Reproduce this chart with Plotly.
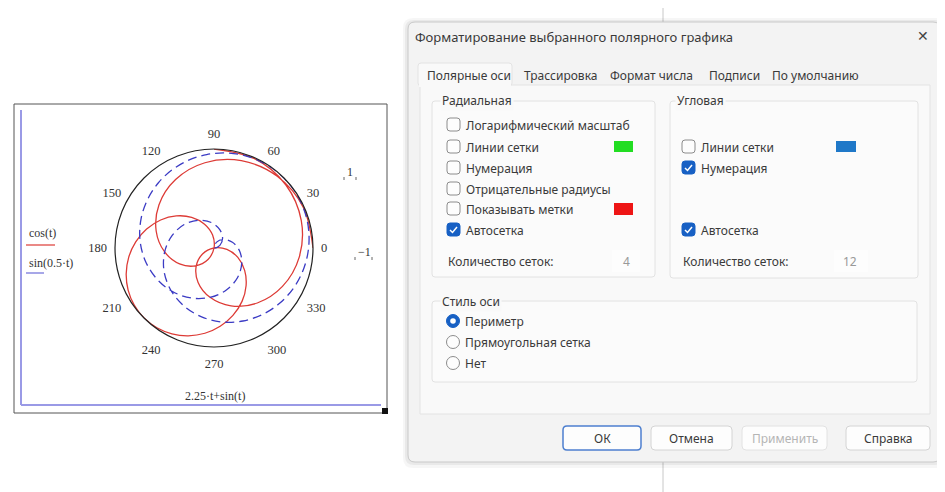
import plotly.graph_objects as go

# ---------------- data ----------------
# angle expression 2.25*t + sin(t) in degrees, sampled along t in [0, 2*pi]
THETA_DEG = [0,24.4,48.6,72.6,96.1,119.3,141.8,163.6,184.6,204.8,224.1,242.4,259.8,276.2,291.6,306.1,319.6,332.3,344.3,355.5,366.1,376.3,386.1,395.6,405,414.4,423.9,433.7,443.9,454.5,465.7,477.7,490.4,503.9,518.4,533.8,550.2,567.6,585.9,605.2,625.4,646.4,668.2,690.7,713.9,737.4,761.4,785.6,810]
R_COS = [1,0.991,0.966,0.924,0.866,0.793,0.707,0.609,0.5,0.383,0.259,0.131,0,-0.131,-0.259,-0.383,-0.5,-0.609,-0.707,-0.793,-0.866,-0.924,-0.966,-0.991,-1,-0.991,-0.966,-0.924,-0.866,-0.793,-0.707,-0.609,-0.5,-0.383,-0.259,-0.131,-0,0.131,0.259,0.383,0.5,0.609,0.707,0.793,0.866,0.924,0.966,0.991,1]
R_SIN = [0,0.065,0.131,0.195,0.259,0.321,0.383,0.442,0.5,0.556,0.609,0.659,0.707,0.752,0.793,0.831,0.866,0.897,0.924,0.947,0.966,0.981,0.991,0.998,1,0.998,0.991,0.981,0.966,0.947,0.924,0.897,0.866,0.831,0.793,0.752,0.707,0.659,0.609,0.556,0.5,0.442,0.383,0.321,0.259,0.195,0.131,0.065,0]
ANGLE_TICKS = [0, 30, 60, 90, 120, 150, 180, 210, 240, 270, 300, 330]
SERIES_NAMES = ["cos(t)", "sin(0.5·t)"]
X_EXPR = "2.25·t+sin(t)"
R_MAX_LABEL = "1"
R_MIN_LABEL = "−1"

# the page places the figure 8px in from the top-left corner of the window
OFF = 8
W, H = 945 - OFF, 492 - OFF
RED = "#dd3b36"
BLUE = "#3b3bc4"
SERIF = "Liberation Serif"
UI = "Noto Sans"
TXT = "#3a3a3a"


def X(x):
    return (x - OFF) / W


def Y(y):
    return 1 - (y - OFF) / H


def reflect(r_list, th_list):
    # negative radii are drawn on the opposite side of the pole
    rr, tt = [], []
    for r, th in zip(r_list, th_list):
        if r < 0:
            rr.append(-r)
            tt.append(th + 180)
        else:
            rr.append(r)
            tt.append(th)
    return rr, tt


fig = go.Figure()
r1, t1 = reflect(R_COS, THETA_DEG)
r2, t2 = reflect(R_SIN, THETA_DEG)
fig.add_trace(go.Scatterpolar(r=r1, theta=t1, mode="lines", name=SERIES_NAMES[0],
                              line=dict(color=RED, width=1.3, shape="spline")))
fig.add_trace(go.Scatterpolar(r=r2, theta=t2, mode="lines", name=SERIES_NAMES[1],
                              line=dict(color=BLUE, width=1.3, dash="9px,5px", shape="spline")))

cx, cy, R = 214, 248, 99
fig.update_layout(
    width=W, height=H, margin=dict(l=0, r=0, t=0, b=0),
    paper_bgcolor="white", showlegend=False,
    polar=dict(
        domain=dict(x=[X(cx - R), X(cx + R)], y=[Y(cy + R), Y(cy - R)]),
        bgcolor="white",
        radialaxis=dict(range=[0, 1], visible=False),
        angularaxis=dict(rotation=0, direction="counterclockwise", tickmode="array",
                         tickvals=ANGLE_TICKS, ticktext=[str(v) for v in ANGLE_TICKS],
                         showgrid=False, showline=True, linecolor="#222", linewidth=1.2,
                         ticks="outside", ticklen=5, tickcolor="rgba(0,0,0,0)",
                         tickfont=dict(family=SERIF, size=12.5, color="#333")),
    ),
)

shapes = []
ann = []


def rect(x0, y0, x1, y1, fill=None, line=None, lw=1, layer="above"):
    shapes.append(dict(type="rect", xref="paper", yref="paper", x0=X(x0), x1=X(x1), y0=Y(y1), y1=Y(y0),
                       fillcolor=fill or "rgba(0,0,0,0)", line=dict(color=line or "rgba(0,0,0,0)", width=lw if line else 0),
                       layer=layer))


def rrect(x0, y0, x1, y1, r, fill=None, line=None, lw=1):
    p = (f"M {X(x0 + r)},{Y(y0)} L {X(x1 - r)},{Y(y0)} Q {X(x1)},{Y(y0)} {X(x1)},{Y(y0 + r)} "
         f"L {X(x1)},{Y(y1 - r)} Q {X(x1)},{Y(y1)} {X(x1 - r)},{Y(y1)} L {X(x0 + r)},{Y(y1)} "
         f"Q {X(x0)},{Y(y1)} {X(x0)},{Y(y1 - r)} L {X(x0)},{Y(y0 + r)} Q {X(x0)},{Y(y0)} {X(x0 + r)},{Y(y0)} Z")
    shapes.append(dict(type="path", xref="paper", yref="paper", path=p,
                       fillcolor=fill or "rgba(0,0,0,0)", line=dict(color=line or "rgba(0,0,0,0)", width=lw if line else 0)))


def seg(x0, y0, x1, y1, color, lw=1):
    shapes.append(dict(type="line", xref="paper", yref="paper", x0=X(x0), y0=Y(y0), x1=X(x1), y1=Y(y1),
                       line=dict(color=color, width=lw)))


def circ(x, y, r, fill=None, line=None, lw=1):
    shapes.append(dict(type="circle", xref="paper", yref="paper", x0=X(x - r), x1=X(x + r), y0=Y(y + r), y1=Y(y - r),
                       fillcolor=fill or "rgba(0,0,0,0)", line=dict(color=line or "rgba(0,0,0,0)", width=lw if line else 0)))


def txt(x, y, s, size=12, color=TXT, anchor="left", family=UI, bg=None):
    d = dict(x=X(x), y=Y(y), xref="paper", yref="paper", text=s, showarrow=False,
             xanchor=anchor, yanchor="middle", font=dict(family=family, size=size, color=color))
    if bg:
        d["bgcolor"] = bg
    ann.append(d)


# ---------------- Mathcad region ----------------
rect(14, 104, 387, 413, line="#555", lw=1)
seg(21, 110, 21, 405, "#9a9ae6", 2)
seg(21, 405, 381, 405, "#9a9ae6", 2)
rect(382, 408, 388, 414, fill="#111")
txt(27, 233, SERIES_NAMES[0], 12, "#333", family=SERIF)
seg(26, 245, 55, 245, RED, 1.2)
txt(27, 263, SERIES_NAMES[1], 12, "#333", family=SERIF)
seg(26, 273, 44, 273, "#8a8ae0", 1.5)
txt(215, 396, X_EXPR, 12, "#333", anchor="center", family=SERIF)
# radial limits with Mathcad placeholder marks
txt(350, 172, R_MAX_LABEL, 12, "#333", anchor="center", family=SERIF)
seg(344, 177, 344, 180, "#666", 1); seg(356, 177, 356, 180, "#666", 1)
txt(364, 252, R_MIN_LABEL, 12, "#333", anchor="center", family=SERIF)
seg(355, 257, 355, 260, "#666", 1); seg(372, 257, 372, 260, "#666", 1)

# ---------------- background behind dialog ----------------
seg(663, 8, 663, 492, "#c8c8c8", 1)

# ---------------- dialog ----------------
rrect(403, 18, 946, 468, 10, fill="rgba(0,0,0,0.035)")
rrect(405, 20, 944, 465, 9, fill="rgba(0,0,0,0.05)")
rrect(408, 22, 940, 462, 7, fill="#f3f3f3", line="#c9c9c9", lw=1)
# tab page
rect(420, 85, 930, 414, fill="#f9f9f9", line="#e3e3e3")
rrect(418, 63, 512, 86, 3, fill="#f9f9f9", line="#e3e3e3")
rect(419, 84, 511, 87, fill="#f9f9f9")
txt(413, 37, "Форматирование выбранного полярного графика", 13)
txt(923, 36, "✕", 14, "#444", anchor="center", family="DejaVu Sans")
tabs = [("Полярные оси", 425), ("Трассировка", 522), ("Формат числа", 608), ("Подписи", 707), ("По умолчанию", 770)]
for name, x in tabs:
    txt(x, 75, name, 12)

# group boxes
rrect(432, 101, 655, 277, 3, fill="#fbfbfb", line="#e2e2e2")
rrect(670, 101, 918, 278, 3, fill="#fbfbfb", line="#e2e2e2")
rrect(432, 301, 917, 382, 3, fill="#fbfbfb", line="#e2e2e2")
txt(440, 101, "Радиальная", 12, bg="#f9f9f9")
txt(675, 101, "Угловая", 12, bg="#f9f9f9")
txt(440, 301, "Стиль оси", 12, bg="#f9f9f9")

CHECK_BLUE = "#1760c4"


def checkbox(x, y, label, checked):
    if checked:
        rrect(x, y - 7, x + 13, y + 6, 3, fill=CHECK_BLUE, line=CHECK_BLUE)
        shapes.append(dict(type="path", xref="paper", yref="paper",
                           path=f"M {X(x + 3)},{Y(y)} L {X(x + 5.5)},{Y(y + 2.5)} L {X(x + 10)},{Y(y - 3)}",
                           line=dict(color="white", width=1.5)))
    else:
        rrect(x, y - 7, x + 13, y + 6, 3, fill="#fdfdfd", line="#8c8c8c")
    txt(x + 17, y, label, 12)


# radial column
checkbox(447, 125, "Логарифмический масштаб", False)
checkbox(447, 147, "Линии сетки", False)
checkbox(447, 168, "Нумерация", False)
checkbox(447, 189, "Отрицательные радиусы", False)
checkbox(447, 209, "Показывать метки", False)
checkbox(447, 230, "Автосетка", True)
rect(614, 141, 633, 152, fill="#22dd22")
rect(614, 203, 633, 215, fill="#ee1515")
txt(446, 261, "Количество сеток:", 12)
rect(612, 250, 640, 272, fill="#fdfdfd")
txt(626, 261, "4", 12, "#999", anchor="center")

# angular column
checkbox(682, 147, "Линии сетки", False)
checkbox(682, 168, "Нумерация", True)
checkbox(682, 230, "Автосетка", True)
rect(836, 141, 856, 152, fill="#1f78c8")
txt(681, 261, "Количество сеток:", 12)
rect(834, 250, 868, 272, fill="#fdfdfd")
txt(850, 261, "12", 12, "#999", anchor="center")

# axis style radios
circ(453, 321, 6.5, fill=CHECK_BLUE, line=CHECK_BLUE)
circ(453, 321, 2.8, fill="white")
txt(463, 321, "Периметр", 12)
circ(453, 342, 6.5, fill="#fdfdfd", line="#8c8c8c")
txt(463, 342, "Прямоугольная сетка", 12)
circ(453, 363, 6.5, fill="#fdfdfd", line="#8c8c8c")
txt(463, 363, "Нет", 12)

# buttons
buttons = [("ОК", 563, 641, TXT, "#4d7fcf"), ("Отмена", 651, 732, TXT, "#d4d4d4"),
           ("Применить", 742, 827, "#b5b5b5", "#e2e2e2"), ("Справка", 846, 930, TXT, "#d4d4d4")]
for label, x0, x1, tc, lc in buttons:
    rrect(x0, 426, x1, 450, 4, fill="#fdfdfd", line=lc, lw=1.5 if label == "ОК" else 1)
    txt((x0 + x1) / 2, 438, label, 12, tc, anchor="center")

fig.update_layout(shapes=shapes, annotations=ann)
fig.write_html("out.html")
